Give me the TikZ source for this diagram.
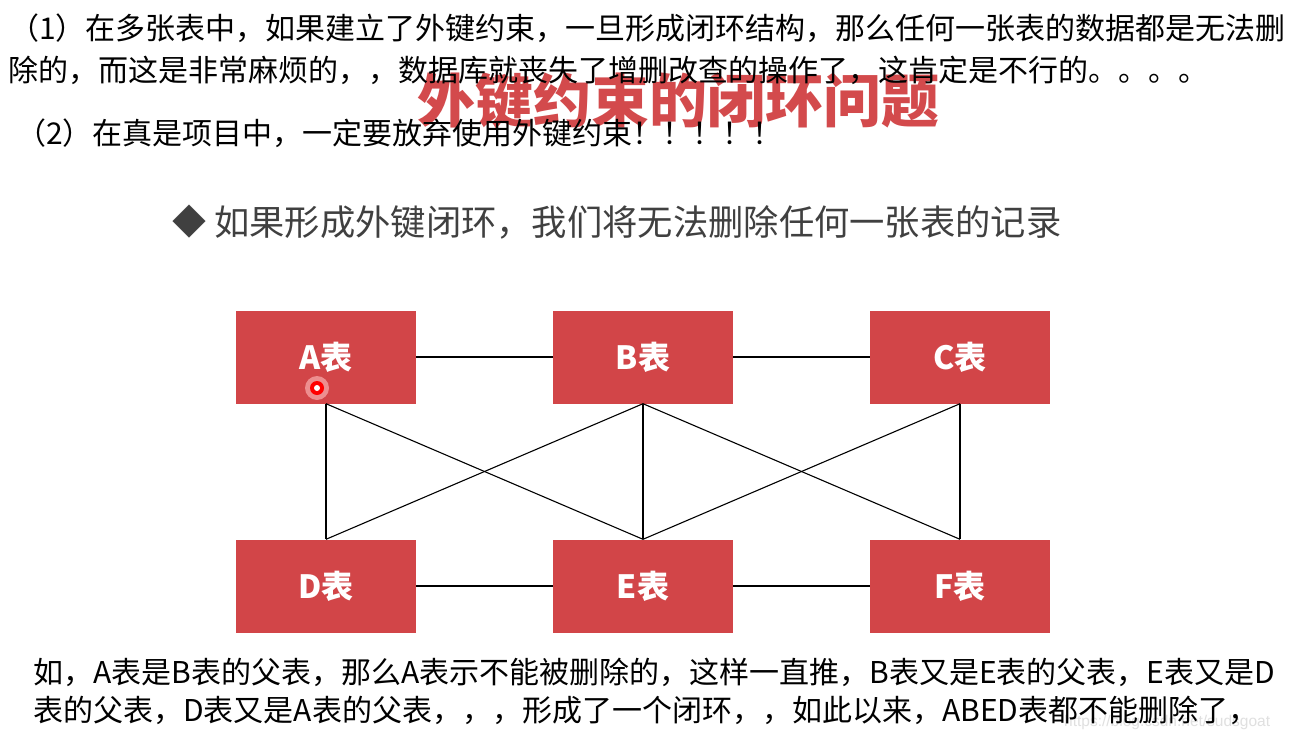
\documentclass[tikz,border=0pt]{standalone}
\usepackage{fontspec}
\newfontfamily\cjk{Noto Sans CJK SC}
\definecolor{boxred}{HTML}{D24548}
\definecolor{titlered}{HTML}{D34A4C}
\definecolor{subgray}{HTML}{404040}
\begin{document}
\begin{tikzpicture}[x=1pt,y=-1pt,
  body/.style={anchor=west,inner sep=0pt,font=\cjk\fontsize{30}{36}\selectfont,text=black},
  tbl/.style={fill=boxred,draw=none,minimum width=180pt,minimum height=93pt,inner sep=0pt,
    text=white,font=\cjk\bfseries\fontsize{32}{36}\selectfont},
  link/.style={draw=black,line width=1.1pt}]
\useasboundingbox[fill=white] (0,0) rectangle (1295,741);
% title (behind the notes)
\node[inner sep=0pt,text=titlered,font=\cjk\bfseries\fontsize{58}{62}\selectfont] (title) at (678,101) {外键约束的闭环问题};
% top notes
\node[body] (l1) at (9,28) {（1）在多张表中，如果建立了外键约束，一旦形成闭环结构，那么任何一张表的数据都是无法删};
\node[body] (l2) at (8,70) {除的，而这是非常麻烦的，，数据库就丧失了增删改查的操作了，这肯定是不行的。。。。};
\node[body] (l3) at (16,133) {（2）在真是项目中，一定要放弃使用外键约束！！！！！};
% subtitle
\node[inner sep=0pt,text=subgray,font=\cjk\fontsize{34}{38}\selectfont] (dia) at (189,222) {◆};
\node[anchor=west,inner sep=0pt,text=subgray,font=\cjk\fontsize{35.3}{40}\selectfont] (sub) at (214,222) {如果形成外键闭环，我们将无法删除任何一张表的记录};
% tables
\node[tbl] (A) at (326,357) {A表};
\node[tbl] (B) at (643,357) {B表};
\node[tbl] (C) at (960,357) {C表};
\node[tbl] (D) at (326,586) {D表};
\node[tbl] (E) at (643,586) {E表};
\node[tbl] (F) at (960,586) {F表};
% connectors
\draw[link] (A.east) -- (B.west);
\draw[link] (B.east) -- (C.west);
\draw[link] (D.east) -- (E.west);
\draw[link] (E.east) -- (F.west);
\draw[link] (A.south) -- (D.north);
\draw[link] (A.south) -- (E.north);
\draw[link] (B.south) -- (D.north);
\draw[link] (B.south) -- (E.north);
\draw[link] (B.south) -- (F.north);
\draw[link] (C.south) -- (E.north);
\draw[link] (C.south) -- (F.north);
% cursor marker
\fill[red!25,opacity=0.6] (317,388) circle (12);
\fill[red] (317,388) circle (7);
\fill[white] (317,388) circle (3);
% watermark (behind the notes)
\node[anchor=west,inner sep=0pt,text=black!12,font=\fontspec{Liberation Sans}\fontsize{15.5}{18}\selectfont] (wm) at (1064,722) {https://blog.csdn.net/sudsgoat};
% bottom notes
\node[body] (b1) at (33,672) {如，A表是B表的父表，那么A表示不能被删除的，这样一直推，B表又是E表的父表，E表又是D};
\node[body] (b2) at (33,710) {表的父表，D表又是A表的父表，，，形成了一个闭环，，如此以来，ABED表都不能删除了，};
\end{tikzpicture}
\end{document}
